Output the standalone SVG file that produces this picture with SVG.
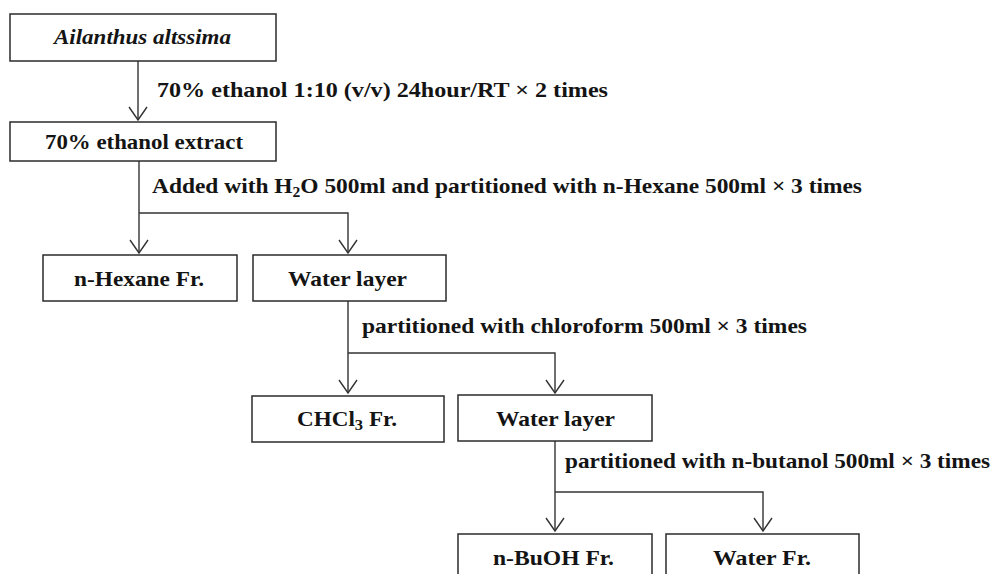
<svg xmlns="http://www.w3.org/2000/svg" width="993" height="574" viewBox="0 0 993 574">
<style>
.box{fill:#fff;stroke:#2b2b2b;stroke-width:1.5}
.t{font-family:'Liberation Serif','Times New Roman',Times,serif;font-weight:700;font-size:21px;fill:#141414}
.ln{fill:none;stroke:#333;stroke-width:1.4}
</style>
<defs>
<marker id="arr" markerUnits="userSpaceOnUse" markerWidth="30" markerHeight="30" viewBox="-15 -15 30 30" refX="0" refY="0" orient="auto">
<path d="M-13,-9 L0,0 L-13,9" fill="none" stroke="#333" stroke-width="1.4"/>
</marker>
</defs>
<rect width="993" height="574" fill="#fff"/>
<g id="connectors">
<line class="ln" x1="138" y1="61" x2="138" y2="120" marker-end="url(#arr)"/>
<line class="ln" x1="139" y1="161" x2="139" y2="253" marker-end="url(#arr)"/>
<polyline class="ln" points="139,213 348,213 348,253" marker-end="url(#arr)"/>
<line class="ln" x1="348" y1="301" x2="348" y2="393" marker-end="url(#arr)"/>
<polyline class="ln" points="348,353 555,353 555,393" marker-end="url(#arr)"/>
<line class="ln" x1="555" y1="441" x2="555" y2="531" marker-end="url(#arr)"/>
<polyline class="ln" points="555,492 763,492 763,531" marker-end="url(#arr)"/>
<text class="t" x="157" y="97" textLength="451" lengthAdjust="spacingAndGlyphs">70% ethanol  1:10 (v/v)  24hour/RT × 2 times</text>
<text class="t" x="152" y="193" textLength="710" lengthAdjust="spacingAndGlyphs">Added with H<tspan font-size="14" dy="4">2</tspan><tspan dy="-4">O 500ml and partitioned with n-Hexane 500ml × 3 times</tspan></text>
<text class="t" x="362" y="333" textLength="445" lengthAdjust="spacingAndGlyphs">partitioned with chloroform 500ml × 3 times</text>
<text class="t" x="565" y="468" textLength="425" lengthAdjust="spacingAndGlyphs">partitioned with n-butanol  500ml × 3 times</text>
</g>
<g id="n1">
<rect class="box" x="10" y="14" width="266" height="47"/>
<text class="t" x="54" y="44" font-style="italic" textLength="177" lengthAdjust="spacingAndGlyphs">Ailanthus altssima</text>
</g>
<g id="n2">
<rect class="box" x="10" y="122" width="266" height="39"/>
<text class="t" x="45" y="149" textLength="198" lengthAdjust="spacingAndGlyphs">70% ethanol extract</text>
</g>
<g id="n3">
<rect class="box" x="43" y="255" width="194" height="46"/>
<text class="t" x="74" y="286" textLength="130" lengthAdjust="spacingAndGlyphs">n-Hexane Fr.</text>
</g>
<g id="n4">
<rect class="box" x="253" y="255" width="193" height="46"/>
<text class="t" x="288" y="286" textLength="119" lengthAdjust="spacingAndGlyphs">Water layer</text>
</g>
<g id="n5">
<rect class="box" x="252" y="396" width="192" height="46"/>
<text class="t" x="297" y="426" textLength="100" lengthAdjust="spacingAndGlyphs">CHCl<tspan font-size="15" dy="4">3</tspan><tspan dy="-4"> Fr.</tspan></text>
</g>
<g id="n6">
<rect class="box" x="458" y="395" width="194" height="46"/>
<text class="t" x="496" y="426" textLength="119" lengthAdjust="spacingAndGlyphs">Water layer</text>
</g>
<g id="n7">
<rect class="box" x="458" y="534" width="194" height="50"/>
<text class="t" x="493" y="565" textLength="121" lengthAdjust="spacingAndGlyphs">n-BuOH Fr.</text>
</g>
<g id="n8">
<rect class="box" x="666" y="534" width="193" height="50"/>
<text class="t" x="713" y="565" textLength="98" lengthAdjust="spacingAndGlyphs">Water Fr.</text>
</g>
</svg>
